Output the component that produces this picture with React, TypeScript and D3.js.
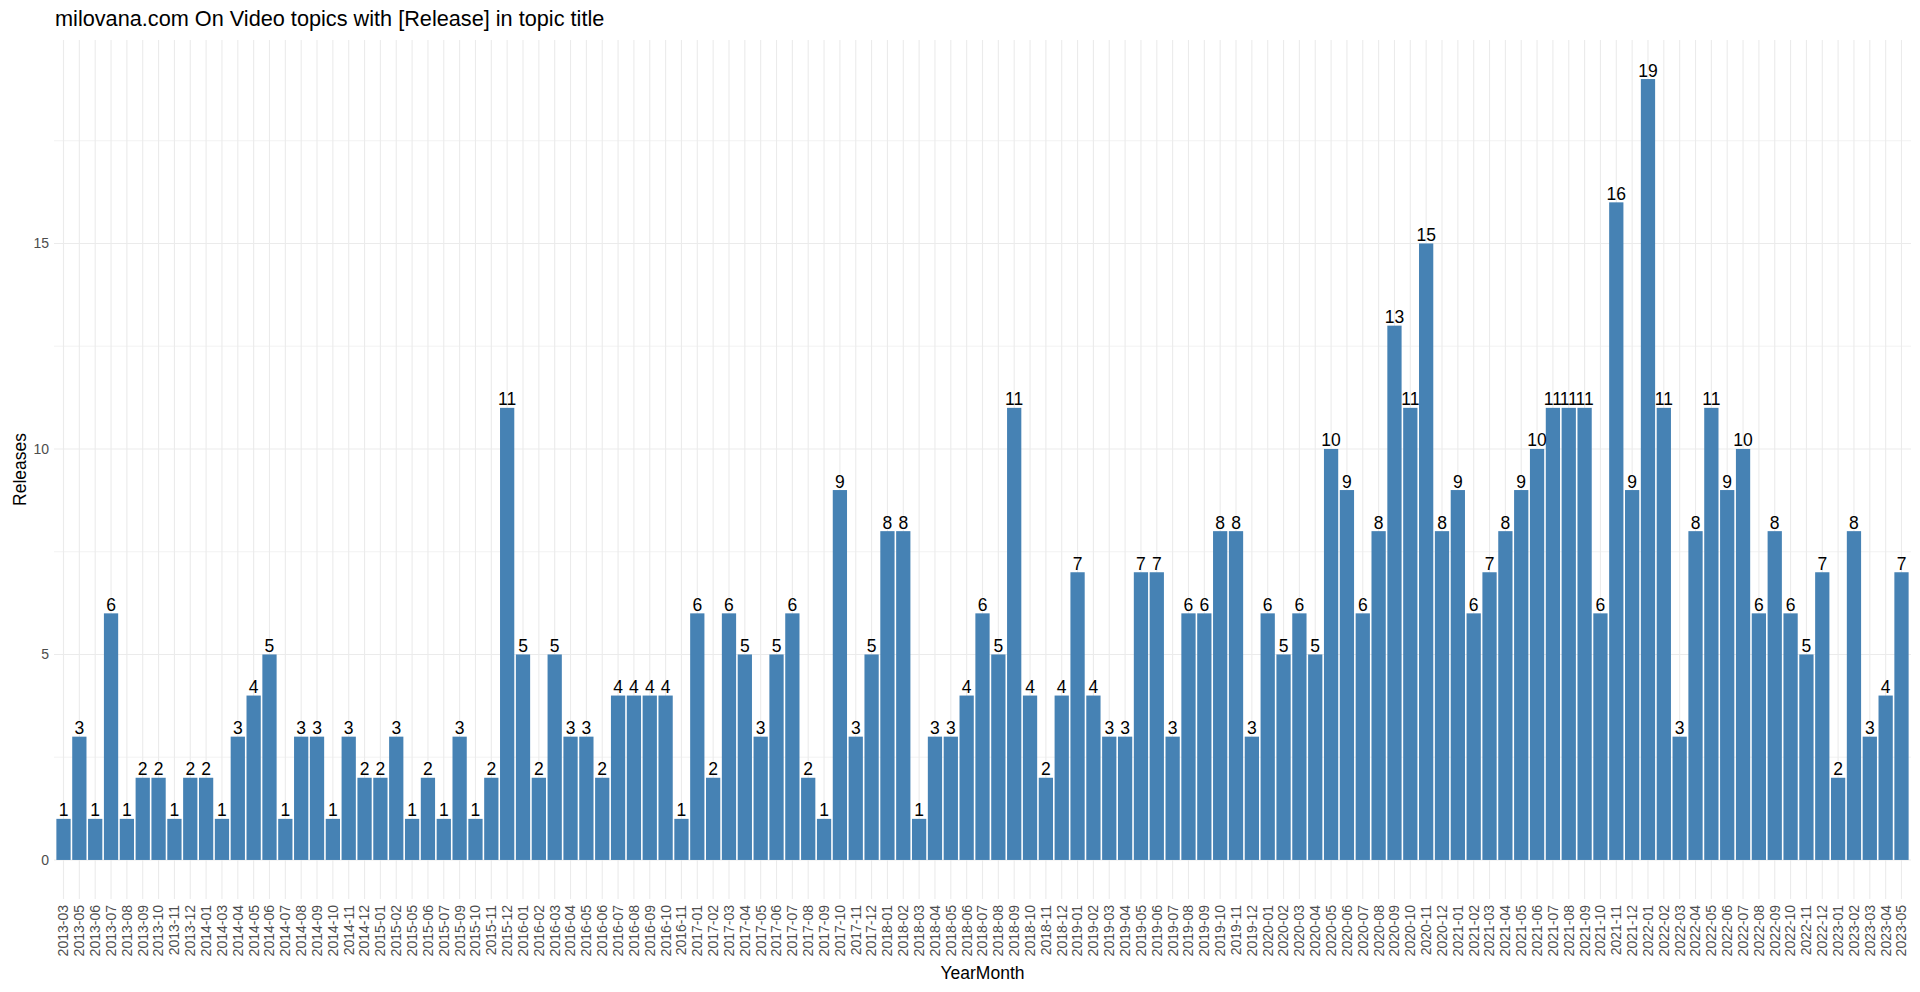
import React from "react";
import * as d3 from "d3";

// Monthly counts of [Release] topics (months without releases are absent)
const months = [
  "2013-03", "2013-05", "2013-06", "2013-07", "2013-08", "2013-09", "2013-10", "2013-11", "2013-12",
  "2014-01", "2014-03", "2014-04", "2014-05", "2014-06", "2014-07", "2014-08", "2014-09", "2014-10", "2014-11", "2014-12",
  "2015-01", "2015-02", "2015-05", "2015-06", "2015-07", "2015-09", "2015-10", "2015-11", "2015-12",
  "2016-01", "2016-02", "2016-03", "2016-04", "2016-05", "2016-06", "2016-07", "2016-08", "2016-09", "2016-10", "2016-11",
  "2017-01", "2017-02", "2017-03", "2017-04", "2017-05", "2017-06", "2017-07", "2017-08", "2017-09", "2017-10", "2017-11", "2017-12",
  "2018-01", "2018-02", "2018-03", "2018-04", "2018-05", "2018-06", "2018-07", "2018-08", "2018-09", "2018-10", "2018-11", "2018-12",
  "2019-01", "2019-02", "2019-03", "2019-04", "2019-05", "2019-06", "2019-07", "2019-08", "2019-09", "2019-10", "2019-11", "2019-12",
  "2020-01", "2020-02", "2020-03", "2020-04", "2020-05", "2020-06", "2020-07", "2020-08", "2020-09", "2020-10", "2020-11", "2020-12",
  "2021-01", "2021-02", "2021-03", "2021-04", "2021-05", "2021-06", "2021-07", "2021-08", "2021-09", "2021-10", "2021-11", "2021-12",
  "2022-01", "2022-02", "2022-03", "2022-04", "2022-05", "2022-06", "2022-07", "2022-08", "2022-09", "2022-10", "2022-11", "2022-12",
  "2023-01", "2023-02", "2023-03", "2023-04", "2023-05",
];

const releases = [
  1, 3, 1, 6, 1, 2, 2, 1, 2,
  2, 1, 3, 4, 5, 1, 3, 3, 1, 3, 2,
  2, 3, 1, 2, 1, 3, 1, 2, 11,
  5, 2, 5, 3, 3, 2, 4, 4, 4, 4, 1,
  6, 2, 6, 5, 3, 5, 6, 2, 1, 9, 3, 5,
  8, 8, 1, 3, 3, 4, 6, 5, 11, 4, 2, 4,
  7, 4, 3, 3, 7, 7, 3, 6, 6, 8, 8, 3,
  6, 5, 6, 5, 10, 9, 6, 8, 13, 11, 15, 8,
  9, 6, 7, 8, 9, 10, 11, 11, 11, 6, 16, 9,
  19, 11, 3, 8, 11, 9, 10, 6, 8, 6, 5, 7,
  2, 8, 3, 4, 7,
];

const majorTicks = [0, 5, 10, 15];
const minorTicks = [2.5, 7.5, 12.5, 17.5];

const W = 1920, H = 992;
const m = { t: 40, r: 9, b: 93, l: 54 };
const font = "'Liberation Sans', Arial, sans-serif";

export default function App() {
  const left = m.l, right = W - m.r, top = m.t, bottom = H - m.b;
  // discrete scale: 0.6 of a step of empty space on each side, bars 0.9 wide
  const step = (right - left) / (months.length + 0.2);
  const x = d3.scaleBand<string>()
    .domain(months)
    .range([left + 0.1 * step, right - 0.1 * step])
    .paddingInner(0.1)
    .paddingOuter(0.05);
  const yMax = d3.max(releases) || 1;
  const pad = yMax * 0.05;
  const y = d3.scaleLinear().domain([-pad, yMax + pad]).range([bottom, top]);
  const cx = (d: string) => (x(d) || 0) + x.bandwidth() / 2;

  return (
    <svg width={W} height={H} style={{ position: "absolute", left: 0, top: 0, background: "#fff" }} fontFamily={font}>
      <g stroke="#EBEBEB">
        {minorTicks.map((t) => (
          <line key={"n" + t} x1={left} x2={right} y1={y(t)} y2={y(t)} strokeWidth={0.6} />
        ))}
        {majorTicks.map((t) => (
          <line key={"j" + t} x1={left} x2={right} y1={y(t)} y2={y(t)} strokeWidth={1.1} />
        ))}
        {months.map((d) => (
          <line key={"v" + d} x1={cx(d)} x2={cx(d)} y1={top} y2={bottom} strokeWidth={1.1} />
        ))}
      </g>
      <g fill="#4682B4">
        {months.map((d, i) => (
          <rect key={d} x={x(d)} width={x.bandwidth()} y={y(releases[i])} height={y(0) - y(releases[i])} />
        ))}
      </g>
      <g fontSize={17.5} fill="#000" textAnchor="middle">
        {months.map((d, i) => (
          <text key={"l" + d} x={cx(d)} y={y(releases[i]) - 2.5}>{releases[i]}</text>
        ))}
      </g>
      <g fontSize={14} fill="#4D4D4D" textAnchor="end">
        {majorTicks.map((t) => (
          <text key={"y" + t} x={left - 5} y={y(t)} dy="0.35em">{t}</text>
        ))}
        {months.map((d) => (
          <text key={"x" + d} transform={`translate(${cx(d)},${bottom + 6}) rotate(-90)`} dy="0.35em">{d}</text>
        ))}
      </g>
      <text x={(left + right) / 2} y={979} textAnchor="middle" fontSize={17.5} fill="#000">YearMonth</text>
      <text transform={`translate(26,${(top + bottom) / 2}) rotate(-90)`} textAnchor="middle" fontSize={17.5} fill="#000">Releases</text>
      <text x={55} y={26} fontSize={21.7} fill="#000">milovana.com On Video topics with [Release] in topic title</text>
    </svg>
  );
}
